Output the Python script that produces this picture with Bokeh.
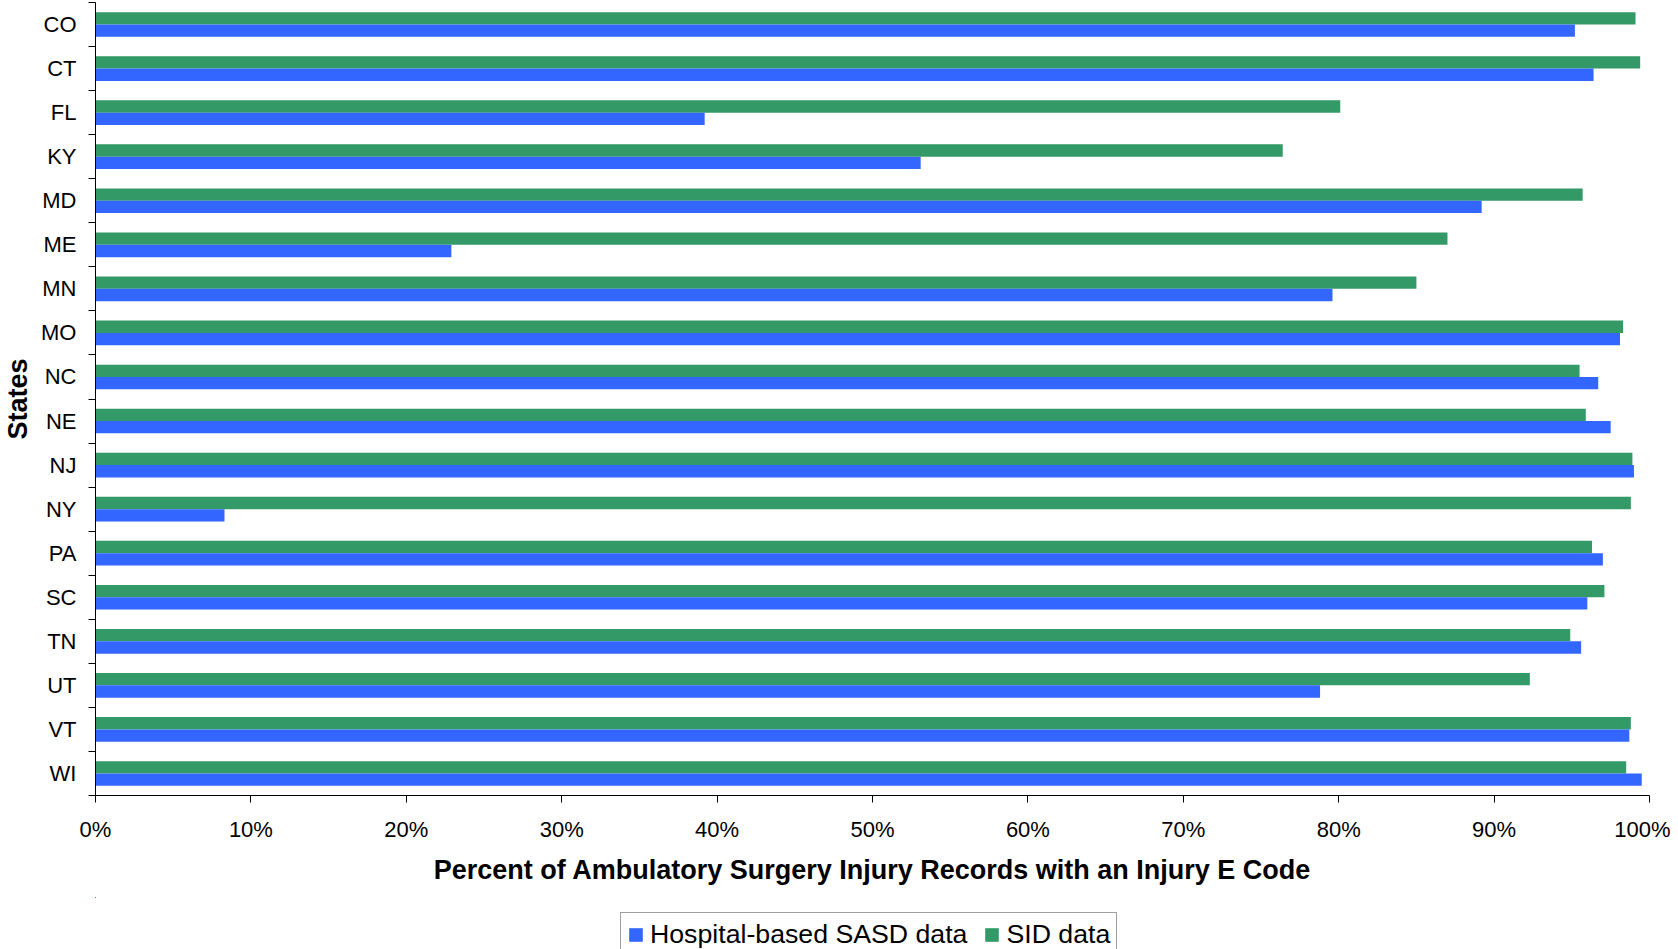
from bokeh.plotting import figure
from bokeh.layouts import column
from bokeh.models import (ColumnDataSource, Range1d, FixedTicker,
                          PrintfTickFormatter, Legend, LegendItem)
from bokeh.transform import dodge
from bokeh.embed import file_html
from bokeh.resources import INLINE

states = ["CO", "CT", "FL", "KY", "MD", "ME", "MN", "MO", "NC", "NE",
          "NJ", "NY", "PA", "SC", "TN", "UT", "VT", "WI"]
sasd = [95.2, 96.4, 39.2, 53.1, 89.2, 22.9, 79.6, 98.1, 96.7, 97.5,
        99.0, 8.3, 97.0, 96.0, 95.6, 78.8, 98.7, 99.5]
sid = [99.1, 99.4, 80.1, 76.4, 95.7, 87.0, 85.0, 98.3, 95.5, 95.9,
       98.9, 98.8, 96.3, 97.1, 94.9, 92.3, 98.8, 98.5]
x_ticks = [0, 10, 20, 30, 40, 50, 60, 70, 80, 90, 100]
series_names = ["Hospital-based SASD data", "SID data"]
colors = ["#3366FF", "#339966"]

FONT = "Liberation Sans"

n = len(states)
# category slot centres, first state at the top
ypos = [n - i - 0.5 for i in range(n)]
source = ColumnDataSource(dict(state=states, ypos=ypos, sasd=sasd, sid=sid))

p = figure(width=1670, height=897, output_backend="svg", toolbar_location=None,
           y_range=Range1d(0, n), x_range=Range1d(0, 100),
           min_border_left=86, min_border_right=21,
           min_border_top=2, min_border_bottom=102)
p.outline_line_color = None
p.xgrid.grid_line_color = None
p.ygrid.grid_line_color = None
p.background_fill_color = "white"
p.border_fill_color = "white"

r_sid = p.hbar(y=dodge("ypos", 0.14), right="sid", left=0, height=0.28,
               source=source, fill_color=colors[1], line_color=None)
r_sasd = p.hbar(y=dodge("ypos", -0.14), right="sasd", left=0, height=0.28,
                source=source, fill_color=colors[0], line_color=None)

# x axis
xa = p.xaxis[0]
xa.ticker = FixedTicker(ticks=x_ticks)
xa.formatter = PrintfTickFormatter(format="%d%%")
xa.axis_label = "Percent of Ambulatory Surgery Injury Records with an Injury E Code"
xa.axis_label_text_font = FONT
xa.axis_label_text_font_style = "bold"
xa.axis_label_text_font_size = "27px"
xa.axis_label_text_color = "black"
xa.axis_label_standoff = 10
xa.major_label_text_font = FONT
xa.major_label_text_font_size = "22px"
xa.major_label_text_color = "black"
xa.major_label_standoff = 14
xa.major_tick_out = 7
xa.major_tick_in = 0
xa.minor_tick_line_color = None
xa.axis_line_color = "black"
xa.major_tick_line_color = "black"

# y axis: labels at category centres, ticks at category boundaries
bounds = [float(i) for i in range(n + 1)]
ya = p.yaxis[0]
ya.ticker = FixedTicker(ticks=ypos, minor_ticks=bounds)
ya.major_label_overrides = {c: s for c, s in zip(ypos, states)}
ya.axis_label = "States"
ya.axis_label_text_font = FONT
ya.axis_label_text_font_style = "bold"
ya.axis_label_text_font_size = "27px"
ya.axis_label_text_color = "black"
ya.axis_label_standoff = 5
ya.major_label_text_font = FONT
ya.major_label_text_font_size = "22px"
ya.major_label_text_color = "black"
ya.major_label_standoff = 12
ya.major_tick_out = 0
ya.major_tick_in = 0
ya.major_tick_line_color = None
ya.minor_tick_out = 7
ya.minor_tick_in = 0
ya.minor_tick_line_color = "black"
ya.axis_line_color = "black"

# legend strip underneath the chart (its bars fall outside its view, only the keys show)
lg = figure(width=1670, height=52, output_backend="svg", toolbar_location=None,
            x_range=Range1d(200, 300), y_range=Range1d(-2, -1),
            x_axis_location=None, y_axis_location=None,
            min_border_left=0, min_border_right=0, min_border_top=0, min_border_bottom=0)
lg.outline_line_color = None
lg.xgrid.grid_line_color = None
lg.ygrid.grid_line_color = None
lg.border_fill_color = "white"
lg.background_fill_color = "white"
k_sasd = lg.hbar(y=dodge("ypos", -0.14), right="sasd", left=0, height=0.28,
                 source=source, fill_color=colors[0], line_color=None)
k_sid = lg.hbar(y=dodge("ypos", 0.14), right="sid", left=0, height=0.28,
                source=source, fill_color=colors[1], line_color=None)

legend = Legend(items=[LegendItem(label=series_names[0], renderers=[k_sasd]),
                       LegendItem(label=series_names[1], renderers=[k_sid])],
                orientation="horizontal", location=(525, -8),
                label_text_font=FONT, label_text_font_size="26.7px",
                label_text_color="black", label_height=28,
                glyph_width=17, glyph_height=17, label_standoff=6, spacing=16,
                padding=6, margin=0, border_line_color="#404040",
                border_line_width=1, background_fill_color="white",
                background_fill_alpha=1.0)
lg.add_layout(legend, "center")

layout = column(p, lg, spacing=0)
open("out.html", "w").write(file_html(layout, INLINE))
